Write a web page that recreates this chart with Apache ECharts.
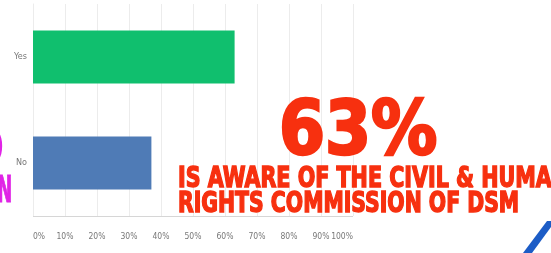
<!DOCTYPE html>
<html>
<head>
    <meta charset="utf-8">
    <script src="https://cdn.jsdelivr.net/npm/echarts@6/dist/echarts.min.js"></script>
    <style>
        html, body { margin: 0; padding: 0; background: #fff; }
        #main { width: 551px; height: 253px; }
    </style>
</head>
<body>
    <div id="main"></div>
    <script>
        // data
        var answers = ['Yes', 'No']
        var shares = [63, 37]
        var barColors = ['#10bf6e', '#4f7bb6']
        var tickValues = [0, 10, 20, 30, 40, 50, 60, 70, 80, 90, 100]

        var RED = '#f7300f'
        var PINK = '#e024e6'
        var HEAVY = '"DejaVu Sans Condensed", "DejaVu Sans", sans-serif'

        var chart = echarts.init(document.getElementById('main'))
        chart.setOption({
            backgroundColor: '#fff',
            animation: false,
            grid: { left: 33, right: 198, top: 4, bottom: 37 },
            xAxis: {
                type: 'value',
                min: 0, max: 100, interval: 10,
                axisLine: { show: false },
                axisTick: { show: false },
                splitLine: { lineStyle: { color: '#ececec', width: 1 } },
                axisLabel: {
                    margin: 16,
                    color: '#777',
                    fontSize: 8.5,
                    fontFamily: '"Liberation Sans Narrow", "DejaVu Sans Condensed", sans-serif',
                    alignMinLabel: 'left',
                    alignMaxLabel: 'right',
                    formatter: v => tickValues.indexOf(v) >= 0 ? v + '%' : ''
                }
            },
            yAxis: {
                type: 'category',
                data: answers,
                inverse: true,
                axisLine: { show: true, lineStyle: { color: '#ececec' } },
                axisTick: { show: false },
                axisLabel: {
                    margin: 6,
                    color: '#777',
                    fontSize: 9,
                    fontFamily: '"Liberation Sans Narrow", "DejaVu Sans Condensed", sans-serif'
                }
            },
            series: [{
                type: 'bar',
                barWidth: '50%',
                data: shares.map((v, i) => ({ value: v, itemStyle: { color: barColors[i] } }))
            }],
            graphic: [
                // bottom axis line
                {
                    type: 'line', z: 5,
                    shape: { x1: 33, y1: 216.5, x2: 353, y2: 216.5 },
                    style: { stroke: '#d6d6d6', lineWidth: 1 }
                },
                {
                    type: 'text', x: 279, y: 97, scaleX: 0.98, z: 10,
                    style: { text: '63%', fill: RED, stroke: RED, lineWidth: 2.5, font: 'bold 75px ' + HEAVY }
                },
                {
                    type: 'text', x: 178, y: 166, scaleX: 0.82, z: 10,
                    style: { text: 'IS AWARE OF THE CIVIL & HUMAN', fill: RED, stroke: RED, lineWidth: 1.4, font: 'bold 28px ' + HEAVY }
                },
                {
                    type: 'text', x: 178, y: 191, scaleX: 0.81, z: 10,
                    style: { text: 'RIGHTS COMMISSION OF DSM', fill: RED, stroke: RED, lineWidth: 1.4, font: 'bold 28px ' + HEAVY }
                },
                {
                    type: 'text', x: -3, y: 174, scaleX: 0.55, z: 10,
                    style: { text: 'N', fill: PINK, stroke: PINK, lineWidth: 1, font: 'bold 37px ' + HEAVY }
                },
                {
                    type: 'text', x: -27, y: 126, z: 10,
                    style: { text: '0', fill: PINK, font: 'bold 50px ' + HEAVY }
                },
                // logo corner
                {
                    type: 'polygon', z: 10,
                    shape: { points: [[523, 253], [547, 221], [551, 221], [551, 227], [532, 253]] },
                    style: { fill: '#1c5cc6' }
                }
            ]
        })
    </script>
</body>
</html>
